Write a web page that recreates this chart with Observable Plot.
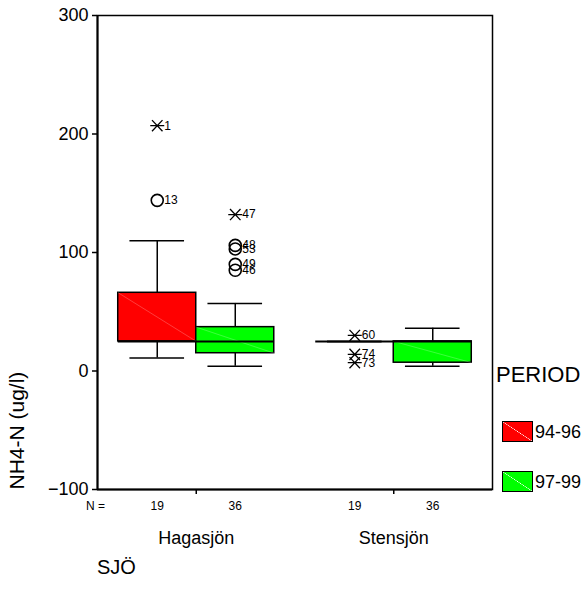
<!DOCTYPE html>
<html>
<head>
<meta charset="utf-8">
<script src="https://cdn.jsdelivr.net/npm/d3@7"></script>
<script src="https://cdn.jsdelivr.net/npm/@observablehq/plot@0.6"></script>
<style>
  body { margin: 0; background: #fff; font-family: Arial, "Liberation Sans", sans-serif; color: #000; }
  #wrap { position: relative; width: 586px; height: 608px; }
  #wrap svg { position: absolute; left: 0; top: 0; }
  .lbl { position: absolute; line-height: 1; white-space: nowrap; }
  .swatch { position: absolute; width: 29px; height: 19px; border: 1.5px solid #000; }
</style>
</head>
<body>
<div id="wrap"></div>
<script>
// Lakes (x categories) and sampling periods (box colour)
const lakes = ["Hagasjön", "Stensjön"];
const periods = ["94-96", "97-99"];
const periodColors = ["#ff0000", "#00ff00"];

// Box statistics, one entry per lake × period:
// Hagasjön 94-96, Hagasjön 97-99, Stensjön 94-96, Stensjön 97-99
const boxLake = [0, 0, 1, 1];
const boxPeriod = [0, 1, 0, 1];
const counts = [19, 36, 19, 36];
const whiskerLow = [11, 4, 25, 4];
const q1 = [25, 15, 25, 7];
const median = [25, 25, 25, 25];
const q3 = [66, 37, 25, 25];
const whiskerHigh = [110, 57, 25, 36];

// Outliers (circles) and extremes (stars), labelled with case number
const outlierId = [1, 13, 47, 48, 53, 49, 46, 60, 74, 73];
const outlierLake = [0, 0, 0, 0, 0, 0, 0, 1, 1, 1];
const outlierPeriod = [0, 0, 1, 1, 1, 1, 1, 0, 0, 0];
const outlierValue = [207, 144, 132, 106, 103, 90, 85, 30, 14, 7];
const outlierExtreme = [true, false, true, false, false, false, false, true, true, true];

const yTicks = [-100, 0, 100, 200, 300];

// Layout of boxes along x: each lake sits at an integer position,
// its two period boxes touch at the centre.
const boxWidth = 0.395;
const capHalf = 0.35 * boxWidth;
const centerOf = (lake, period) => lake + (period - 0.5) * boxWidth;

const boxes = boxLake.map((lake, i) => ({
  lake, period: boxPeriod[i], n: counts[i],
  left: lake + (boxPeriod[i] - 1) * boxWidth,
  right: lake + boxPeriod[i] * boxWidth,
  center: centerOf(lake, boxPeriod[i]),
  lo: whiskerLow[i], q1: q1[i], med: median[i], q3: q3[i], hi: whiskerHigh[i],
  fill: periodColors[boxPeriod[i]]
}));

const outliers = outlierId.map((id, i) => ({
  id, value: outlierValue[i], extreme: outlierExtreme[i],
  x: centerOf(outlierLake[i], outlierPeriod[i])
}));

// SPSS-style extreme marker: a cross with a horizontal bar
const starSymbol = {
  draw(ctx, size) {
    const r = Math.sqrt(size / Math.PI);
    ctx.moveTo(-r, 0); ctx.lineTo(r, 0);
    ctx.moveTo(-0.75 * r, -0.8 * r); ctx.lineTo(0.75 * r, 0.8 * r);
    ctx.moveTo(-0.75 * r, 0.8 * r); ctx.lineTo(0.75 * r, -0.8 * r);
  }
};

const chart = Plot.plot({
  width: 586,
  height: 608,
  marginLeft: 97,
  marginRight: 94,
  marginTop: 15,
  marginBottom: 119,
  style: { fontFamily: "Arial, 'Liberation Sans', sans-serif", color: "#000", background: "transparent" },
  x: { domain: [-0.5, 1.5] },
  y: { domain: [-100, 300] },
  marks: [
    Plot.frame({ stroke: "#000", strokeWidth: 1.5 }),
    Plot.ruleX([-0.5], { stroke: "#000", strokeWidth: 2 }),
    Plot.ruleY([-100], { stroke: "#000", strokeWidth: 2 }),
    Plot.axisY({ ticks: yTicks, tickSize: 5, tickPadding: 4, fontSize: 18, label: null, strokeWidth: 1.5 }),
    Plot.axisX({ ticks: [0, 1], tickSize: 5, tickPadding: 37, tickFormat: (i) => lakes[i], fontSize: 18, label: null, strokeWidth: 1.5 }),
    // whisker stems and caps
    Plot.ruleX(boxes, { x: "center", y1: "q3", y2: "hi", stroke: "#000", strokeWidth: 1.5 }),
    Plot.ruleX(boxes, { x: "center", y1: "lo", y2: "q1", stroke: "#000", strokeWidth: 1.5 }),
    Plot.ruleY(boxes, { y: "hi", x1: (d) => d.center - capHalf, x2: (d) => d.center + capHalf, stroke: "#000", strokeWidth: 1.5 }),
    Plot.ruleY(boxes, { y: "lo", x1: (d) => d.center - capHalf, x2: (d) => d.center + capHalf, stroke: "#000", strokeWidth: 1.5 }),
    // boxes
    Plot.rect(boxes, { x1: "left", x2: "right", y1: "q1", y2: "q3", fill: "fill", stroke: "#000", strokeWidth: 1.5 }),
    Plot.link(boxes.filter((d) => d.q3 > d.q1), { x1: "left", y1: "q3", x2: "right", y2: "q1", stroke: "#fff", strokeOpacity: 0.4, strokeWidth: 0.6 }),
    Plot.ruleY(boxes, { y: "med", x1: "left", x2: "right", stroke: "#000", strokeWidth: 2 }),
    // outliers and extremes
    Plot.dot(outliers.filter((d) => !d.extreme), { x: "x", y: "value", r: 6, stroke: "#000", strokeWidth: 1.6, fill: "none" }),
    Plot.dot(outliers.filter((d) => d.extreme), { x: "x", y: "value", r: 7, symbol: starSymbol, stroke: "#000", strokeWidth: 1.3, fill: "none" }),
    Plot.text(outliers, { x: "x", y: "value", text: "id", dx: 7, textAnchor: "start", fontSize: 12 }),
    // sample sizes under each box
    Plot.text(boxes, { x: "center", text: "n", frameAnchor: "bottom", dy: 20, fontSize: 12 }),
    Plot.text(["N ="], { frameAnchor: "bottom-left", textAnchor: "middle", dy: 20, dx: -2, fontSize: 12 }),
    // y title
    Plot.text(["NH4-N (ug/l)"], { frameAnchor: "bottom-left", rotate: -90, textAnchor: "start", dx: -74, fontSize: 21 })
  ]
});

const wrap = document.getElementById("wrap");
wrap.appendChild(chart);

// Legend for PERIOD and the x-grouping title, placed beside and below the plot
function addLabel(text, left, top, size) {
  const el = document.createElement("div");
  el.className = "lbl";
  el.textContent = text;
  el.style.left = left + "px";
  el.style.top = top + "px";
  el.style.fontSize = size + "px";
  wrap.appendChild(el);
}
addLabel("PERIOD", 496, 364, 22);
periods.forEach((p, i) => {
  const top = 421 + i * 50;
  const sw = document.createElement("div");
  sw.className = "swatch";
  sw.style.left = "502px";
  sw.style.top = top + "px";
  const c = periodColors[i];
  sw.style.background = `linear-gradient(to top right, ${c} calc(50% - 0.5px), rgba(255,255,255,0.45) 50%, ${c} calc(50% + 0.5px))`;
  wrap.appendChild(sw);
  addLabel(p, 535, top + 2, 18);
});
addLabel("SJÖ", 97, 557, 20);
</script>
</body>
</html>
